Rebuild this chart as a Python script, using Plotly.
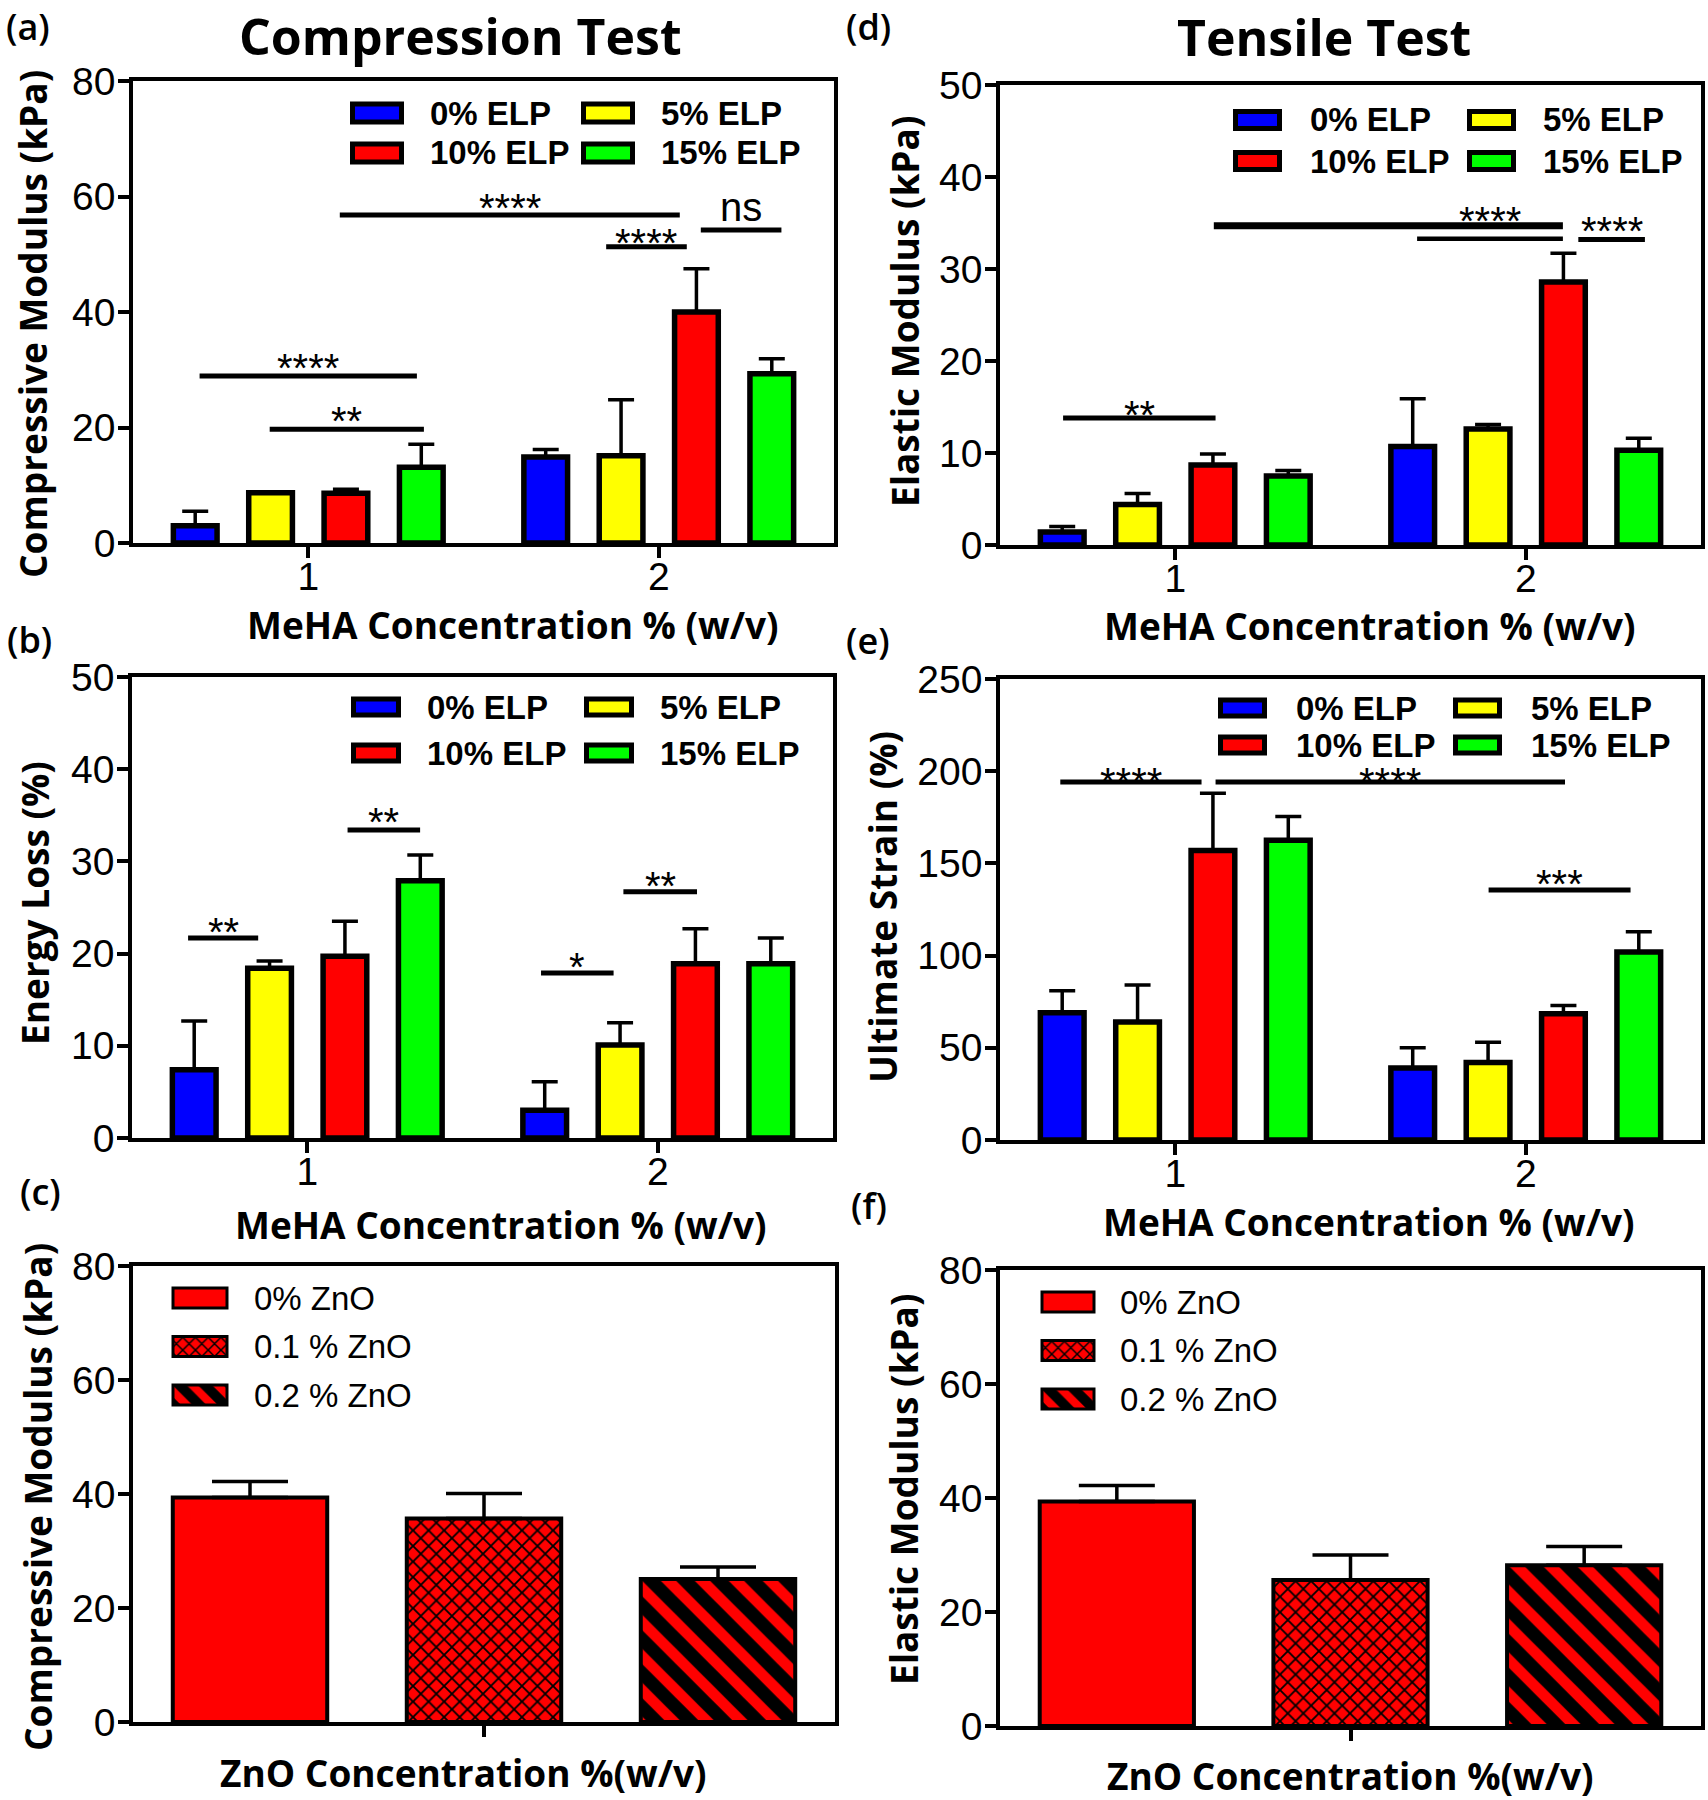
import plotly.graph_objects as go

W, H = 1708, 1800

# ---------------- data ----------------
meha_conc = [1, 2]  # MeHA concentration % (w/v)
elp_names = ["0% ELP", "5% ELP", "10% ELP", "15% ELP"]

# rows = ELP series (0, 5, 10, 15 %), columns = MeHA 1 %, 2 %
comp_mod_mean = [[3.0, 14.9], [8.7, 15.1], [8.6, 40.0], [13.1, 29.3]]
comp_mod_sd = [[2.5, 1.3], [0.0, 9.7], [0.7, 7.5], [4.0, 2.6]]

energy_loss_mean = [[7.4, 3.0], [18.4, 10.1], [19.7, 18.9], [27.9, 18.9]]
energy_loss_sd = [[5.3, 3.1], [0.8, 2.4], [3.8, 3.8], [2.8, 2.8]]

elastic_mod_mean = [[1.4, 10.7], [4.4, 12.6], [8.7, 28.6], [7.5, 10.3]]
elastic_mod_sd = [[0.6, 5.2], [1.2, 0.5], [1.2, 3.1], [0.6, 1.3]]

ult_strain_mean = [[69, 39], [64, 42], [157, 68.5], [162.5, 102]]
ult_strain_sd = [[12, 11], [20, 11], [31, 4.5], [13, 11]]

zno_names = ["0% ZnO", "0.1 % ZnO", "0.2 % ZnO"]
zno_comp_mean = [39.4, 35.7, 25.1]
zno_comp_sd = [2.8, 4.4, 2.1]
zno_elastic_mean = [39.4, 25.6, 28.2]
zno_elastic_sd = [2.8, 4.4, 3.3]

# significance brackets (data units): start, end, height, label, label height
sig_a_x0 = [0.69, 0.89, 1.09, 1.85, 2.12]
sig_a_x1 = [1.31, 1.33, 2.06, 2.08, 2.35]
sig_a_y = [28.9, 19.7, 56.8, 51.3, 54.2]
sig_a_label = ["****", "**", "****", "****", "ns"]
sig_a_label_y = [31.9, 22.7, 59.5, 53.5, 57.6]

sig_d_x0 = [0.68, 1.11, 1.69, 2.15]
sig_d_x1 = [1.115, 2.106, 2.106, 2.34]
sig_d_y = [13.8, 34.7, 33.3, 33.2]
sig_d_label = ["**", "", "****", "****"]
sig_d_label_y = [15.1, 0, 36.2, 35.1]

sig_b_x0 = [0.66, 1.115, 1.667, 1.902]
sig_b_x1 = [0.86, 1.322, 1.874, 2.112]
sig_b_y = [21.7, 33.4, 17.9, 26.7]
sig_b_label = ["**", "**", "*", "**"]
sig_b_label_y = [23.3, 35.2, 19.5, 28.3]

sig_e_x0 = [0.672, 1.115, 1.894]
sig_e_x1 = [1.075, 2.112, 2.299]
sig_e_y = [194.2, 194.2, 135.6]
sig_e_label = ["****", "****", "***"]
sig_e_label_y = [199.2, 199.2, 143.8]

# ---------------- styling ----------------
elp_colors = ["#0000FF", "#FFFF00", "#FF0000", "#00FF00"]
zno_color = "#FF0000"
zno_shapes = ["", "x", "\\"]
TICK_FONT = "Liberation Sans, Arial, Helvetica, sans-serif"
HEAD_FONT = "Open Sans, Noto Sans, sans-serif"


def fx(px):
    return px / W


def fy(py):
    return 1 - py / H


# plot boxes in pixels: left, right, top, bottom
BOX = {
    "a": (133, 834, 81, 543),
    "d": (1000, 1701, 85, 545),
    "b": (132, 833, 677, 1138),
    "e": (1000, 1701, 679, 1140),
    "c": (133, 835, 1266, 1722),
    "f": (1000, 1701, 1270, 1726),
}
AX = {"a": "", "d": "2", "b": "3", "e": "4", "c": "5", "f": "6"}

fig = go.Figure()
layout_axes = {}
shapes = []
annotations = []

common = dict(
    showline=True, linewidth=3.5, linecolor="black", mirror=True,
    ticks="outside", ticklen=11, tickwidth=3.5, tickcolor="black",
    showgrid=False, zeroline=False, fixedrange=True, automargin=False,
    tickfont=dict(family=TICK_FONT, size=39, color="black"),
)


def add_axes(key, xrange, xtickvals, xticktext, yrange, ydtick):
    L, R, T, B = BOX[key]
    n = AX[key]
    layout_axes["xaxis" + n] = dict(domain=[fx(L), fx(R)], range=xrange, anchor="y" + n,
                                    tickmode="array", tickvals=xtickvals, ticktext=xticktext,
                                    ticklabelstandoff=-15, **common)
    layout_axes["yaxis" + n] = dict(domain=[fy(B), fy(T)], range=yrange, anchor="x" + n,
                                    tick0=0, dtick=ydtick, ticklabelstandoff=-5, **common)


def add_elp_bars(key, means, sds):
    n = AX[key]
    for name, color, m, s in zip(elp_names, elp_colors, means, sds):
        fig.add_trace(go.Bar(
            x=meha_conc, y=m, name=name, showlegend=False,
            marker=dict(color=color, line=dict(color="black", width=5.5)),
            error_y=dict(type="data", array=s, arrayminus=[0] * len(s), symmetric=False,
                         color="black", thickness=3.5, width=13),
            xaxis="x" + n, yaxis="y" + n))


def add_zno_bars(key, means, sds):
    n = AX[key]
    for i, (name, m, s, shp) in enumerate(zip(zno_names, means, sds, zno_shapes)):
        fig.add_trace(go.Bar(
            x=[i], y=[m], name=name, showlegend=False, width=0.66, offset=-0.33,
            offsetgroup="zno" + key,
            marker=dict(color=zno_color, line=dict(color="black", width=4),
                        pattern=dict(shape=shp, fgcolor="black", bgcolor=zno_color, fgopacity=1,
                                     size=24 if shp == "\\" else 11,
                                     solidity=0.55 if shp == "\\" else 0.3)),
            error_y=dict(type="data", array=[s], arrayminus=[0], symmetric=False,
                         color="black", thickness=3.5, width=38),
            xaxis="x" + n, yaxis="y" + n))


def add_sig(key, x0s, x1s, ys, labels, label_ys, widths=None):
    n = AX[key]
    for k, (x0, x1, y, lab, ly) in enumerate(zip(x0s, x1s, ys, labels, label_ys)):
        w = widths[k] if widths else 5
        shapes.append(dict(type="line", xref="x" + n, yref="y" + n, x0=x0, x1=x1, y0=y, y1=y,
                           line=dict(color="black", width=w)))
        if lab:
            annotations.append(dict(
                text=lab, x=(x0 + x1) / 2, y=ly, xref="x" + n, yref="y" + n, showarrow=False,
                font=dict(family=TICK_FONT, size=40, color="black"),
                xanchor="center", yanchor="middle", yshift=-9 if "*" in lab else 3))


def text_px(text, x, y, size, family, weight="normal", angle=0, xanchor="center"):
    annotations.append(dict(
        text=text, x=fx(x), y=fy(y), xref="paper", yref="paper", showarrow=False,
        font=dict(family=family, size=size, color="black", weight=weight),
        textangle=angle, xanchor=xanchor, yanchor="middle"))


def elp_legend(icon_x, text_x, row_y, iw, ih, lw=5):
    for k, (name, color) in enumerate(zip(elp_names, elp_colors)):
        r, c = divmod(k, 2)
        x0 = icon_x[c]
        yc = row_y[r]
        shapes.append(dict(type="rect", xref="paper", yref="paper",
                           x0=fx(x0 + lw / 2), x1=fx(x0 + iw - lw / 2),
                           y0=fy(yc + ih / 2 - lw / 2), y1=fy(yc - ih / 2 + lw / 2),
                           fillcolor=color, line=dict(color="black", width=lw)))
        text_px(name, text_x[c], yc, 33, TICK_FONT, weight="bold", xanchor="left")


def zno_legend(idx, icon_x0, icon_x1, row_y, ih, text_x):
    n = str(idx)
    pad = 3
    span = icon_x1 - icon_x0
    step = (row_y[-1] - row_y[0]) / (len(row_y) - 1)
    layout_axes["xaxis" + n] = dict(domain=[fx(icon_x0 - pad), fx(icon_x1 + pad)],
                                    range=[-pad / span, 1 + pad / span], anchor="y" + n,
                                    visible=False, fixedrange=True, automargin=False)
    layout_axes["yaxis" + n] = dict(domain=[fy(row_y[-1] + step / 2), fy(row_y[0] - step / 2)],
                                    range=[len(row_y) - 0.5, -0.5], anchor="x" + n,
                                    visible=False, fixedrange=True, automargin=False)
    bw = (ih - 3) / step
    fig.add_trace(go.Bar(
        orientation="h", y=list(range(len(zno_names))), x=[1] * len(zno_names), base=0,
        width=bw, offset=-bw / 2, showlegend=False, hoverinfo="skip",
        marker=dict(color=zno_color, line=dict(color="black", width=3),
                    pattern=dict(shape=zno_shapes, fgcolor="black", bgcolor=zno_color, fgopacity=1,
                                 size=[10, 9, 18], solidity=[0.3, 0.3, 0.55])),
        xaxis="x" + n, yaxis="y" + n))
    for name, yc in zip(zno_names, row_y):
        text_px(name, text_x, yc, 33, TICK_FONT, xanchor="left")


# ---------------- panels ----------------
elp_xrange = [0.5, 2.5]
add_axes("a", elp_xrange, meha_conc, ["1", "2"], [0, 80], 20)
add_axes("d", elp_xrange, meha_conc, ["1", "2"], [0, 50], 10)
add_axes("b", elp_xrange, meha_conc, ["1", "2"], [0, 50], 10)
add_axes("e", elp_xrange, meha_conc, ["1", "2"], [0, 250], 50)
add_axes("c", [-0.5, 2.5], [1], [""], [0, 80], 20)
add_axes("f", [-0.5, 2.5], [1], [""], [0, 80], 20)

add_elp_bars("a", comp_mod_mean, comp_mod_sd)
add_elp_bars("d", elastic_mod_mean, elastic_mod_sd)
add_elp_bars("b", energy_loss_mean, energy_loss_sd)
add_elp_bars("e", ult_strain_mean, ult_strain_sd)
add_zno_bars("c", zno_comp_mean, zno_comp_sd)
add_zno_bars("f", zno_elastic_mean, zno_elastic_sd)

add_sig("a", sig_a_x0, sig_a_x1, sig_a_y, sig_a_label, sig_a_label_y)
add_sig("d", sig_d_x0, sig_d_x1, sig_d_y, sig_d_label, sig_d_label_y, widths=[5, 7, 4.5, 5])
add_sig("b", sig_b_x0, sig_b_x1, sig_b_y, sig_b_label, sig_b_label_y)
add_sig("e", sig_e_x0, sig_e_x1, sig_e_y, sig_e_label, sig_e_label_y)

# legends
elp_legend([350, 581], [428, 659], [113, 153], 54, 23)
elp_legend([1233, 1467], [1308, 1541], [120, 161], 49, 22)
elp_legend([351, 584], [425, 658], [707, 753], 50, 21)
elp_legend([1218, 1453], [1294, 1529], [708, 745], 49, 21)
zno_legend(7, 173, 227, [1298, 1346, 1395], 23, 252)
zno_legend(8, 1042, 1094, [1302, 1350, 1399], 23, 1118)

# titles and labels
text_px("Compression Test", 460, 36, 50, HEAD_FONT, weight="bold")
text_px("Tensile Test", 1324, 37, 50, HEAD_FONT, weight="bold")
for lab, x, y in [("(a)", 28, 26), ("(d)", 869, 26), ("(b)", 29, 639),
                  ("(e)", 868, 640), ("(c)", 40, 1191), ("(f)", 869, 1205)]:
    text_px(lab, x, y, 36, HEAD_FONT, weight=600)

xt = "MeHA Concentration % (w/v)"
text_px(xt, 513, 624, 37, HEAD_FONT, weight="bold")
text_px(xt, 1370, 626, 37, HEAD_FONT, weight="bold")
text_px(xt, 501, 1224, 37, HEAD_FONT, weight="bold")
text_px(xt, 1369, 1221, 37, HEAD_FONT, weight="bold")
text_px("ZnO Concentration %(w/v)", 463, 1772, 37, HEAD_FONT, weight="bold")
text_px("ZnO Concentration %(w/v)", 1350, 1775, 37, HEAD_FONT, weight="bold")

text_px("Compressive Modulus (kPa)", 33, 324, 37, HEAD_FONT, weight="bold", angle=-90)
text_px("Elastic Modulus (kPa)", 904, 312, 37, HEAD_FONT, weight="bold", angle=-90)
text_px("Energy Loss (%)", 34, 903, 37, HEAD_FONT, weight="bold", angle=-90)
text_px("Ultimate Strain (%)", 882, 907, 37, HEAD_FONT, weight="bold", angle=-90)
text_px("Compressive Modulus (kPa)", 37, 1497, 37, HEAD_FONT, weight="bold", angle=-90)
text_px("Elastic Modulus (kPa)", 903, 1490, 37, HEAD_FONT, weight="bold", angle=-90)

fig.update_layout(
    width=W, height=H, autosize=False, margin=dict(l=0, r=0, t=0, b=0, pad=0),
    paper_bgcolor="white", plot_bgcolor="white",
    barmode="group", bargap=0.14, bargroupgap=0.42, showlegend=False,
    shapes=shapes, annotations=annotations, **layout_axes)

# the page's default 8px body margin would push the fixed-size figure off the window
fig.write_html("out.html", config={"displayModeBar": False},
               post_script="document.body.style.margin='0px';")
